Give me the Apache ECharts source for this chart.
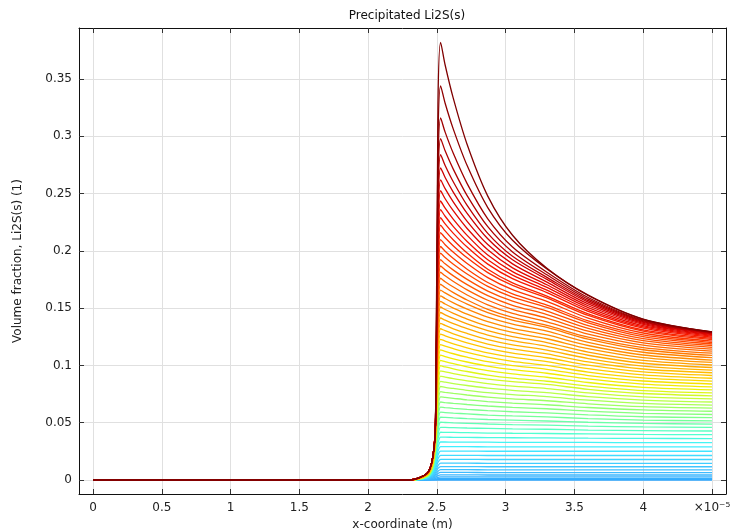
<!DOCTYPE html>
<html><head><meta charset="utf-8">
<script src="https://cdn.jsdelivr.net/npm/echarts@6/dist/echarts.min.js"></script>
<style>html,body{margin:0;padding:0;background:#fff}#c{width:731px;height:530px}</style>
</head><body><div id="c"></div><script>
// x positions (units of 1e-5 m) at which every curve was read
const xCoords = [0, 2.3, 2.43, 2.47, 2.49, 2.508, 2.527, 2.56, 2.62, 2.72, 2.87, 3.05, 3.3, 3.6, 4.0, 4.5];
// every curve reads 0 for x <= 2.3
const yBeforeRise = 0;
// values per x position, one entry per curve, from the top (latest) curve down to the first curve
const yAt2_43 = [.006,.006,.006,.006,.006,.006,.006,.006,.006,.006,.006,.006,.006,.006,.006,.006,.0059,.0058,.0057,.0056,.0055,.0055,.0054,.0053,.0052,.0051,.005,.005,.0049,.0048,.0047,.0046,.0045,.0044,.0043,.0042,.0041,.004,.0039,.0038,.0037,.0036,.0035,.0034,.0033,.0031,.003,.0029,.0027,.0026,.0024,.0023,.0021,.002,.0018,.0015,.0012,.0009,.0007,.0005,.0003,.0002,.0001,0];
const yAt2_47 = [.02,.02,.02,.02,.02,.02,.02,.02,.02,.02,.02,.02,.02,.02,.02,.02,.0196,.0193,.019,.0188,.0185,.0182,.0179,.0177,.0174,.0171,.0168,.0165,.0162,.016,.0157,.0154,.0151,.0148,.0144,.0141,.0138,.0135,.0131,.0128,.0124,.012,.0117,.0113,.0109,.0105,.01,.0096,.0091,.0086,.0081,.0076,.0071,.0065,.0054,.0044,.0035,.0027,.002,.0014,.0008,.0005,.0002,0];
const yAt2_49 = [.05,.05,.05,.05,.05,.05,.05,.05,.05,.05,.05,.05,.05,.05,.05,.05,.049,.0483,.0476,.0469,.0462,.0455,.0449,.0442,.0435,.0428,.0421,.0414,.0406,.0399,.0392,.0385,.0377,.0369,.0361,.0353,.0345,.0337,.0328,.032,.0311,.0301,.0292,.0282,.0272,.0262,.0251,.024,.0229,.0206,.0183,.016,.0139,.0118,.0099,.0081,.0064,.005,.0036,.0025,.0015,.0008,.0003,0];
const yAt2_508 = [.3285,.2958,.2718,.2563,.2442,.2344,.2253,.2172,.2094,.203,.1969,.1914,.1858,.1804,.1753,.1703,.1654,.1606,.156,.1514,.147,.1426,.1383,.1341,.1299,.1257,.1216,.1176,.1135,.1096,.1056,.1017,.0977,.0937,.0898,.0858,.0819,.0779,.074,.0702,.0663,.0624,.0586,.0547,.0509,.0471,.0433,.0396,.0359,.0322,.0286,.025,.0217,.0185,.0155,.0126,.0101,.0077,.0057,.0039,.0024,.0013,.0005,0];
const yPeak = [.382,.344,.316,.298,.284,.2725,.262,.2525,.2435,.236,.229,.2225,.216,.2098,.2038,.198,.1923,.1868,.1814,.1761,.1709,.1658,.1608,.1559,.151,.1462,.1414,.1367,.132,.1274,.1228,.1182,.1136,.109,.1044,.0998,.0952,.0906,.0861,.0816,.0771,.0726,.0681,.0636,.0592,.0548,.0504,.046,.0417,.0374,.0332,.0291,.0252,.0215,.018,.0147,.0117,.009,.0066,.0045,.0028,.0015,.0006,0];
const yAt2_56 = [.3622,.3288,.3036,.2873,.2745,.2640,.2543,.2455,.2372,.2302,.2236,.2174,.2114,.2054,.1997,.1942,.1887,.1834,.1782,.1731,.1680,.1633,.1584,.1536,.1488,.1442,.1395,.1349,.1303,.1258,.1213,.1168,.1123,.1078,.1033,.0987,.0943,.0898,.0854,.0809,.0765,.0721,.0676,.0632,.0589,.0546,.0502,.0459,.0416,.0374,.0332,.0291,.0252,.0215,.018,.0147,.0117,.009,.0066,.0045,.0028,.0015,.0006,0];
const yAt2_62 = [.3328,.3060,.2849,.2711,.2601,.2511,.2426,.2348,.2275,.2212,.2153,.2095,.2043,.1987,.1933,.1883,.1832,.1782,.1732,.1684,.1636,.1593,.1546,.1501,.1455,.1410,.1365,.1320,.1276,.1233,.1189,.1146,.1102,.1058,.1015,.0971,.0929,.0885,.0842,.0799,.0756,.0713,.0669,.0626,.0584,.0542,.0499,.0457,.0415,.0373,.0331,.0291,.0252,.0215,.018,.0147,.0117,.009,.0066,.0045,.0028,.0015,.0006,0];
const yAt2_72 = [.2928,.2744,.2587,.2482,.2397,.2327,.2258,.2195,.2135,.2082,.2033,.1981,.1939,.1889,.1840,.1798,.1751,.1705,.1660,.1615,.1571,.1535,.1491,.1448,.1405,.1363,.1321,.1279,.1237,.1196,.1154,.1113,.1072,.1030,.0988,.0947,.0908,.0866,.0825,.0783,.0742,.0700,.0659,.0617,.0577,.0536,.0495,.0454,.0413,.0372,.0331,.0291,.0252,.0215,.018,.0147,.0117,.009,.0066,.0045,.0028,.0015,.0006,0];
const yAt2_87 = [.2478,.2378,.2280,.2211,.2153,.2105,.2055,.2009,.1963,.1923,.1884,.1840,.1810,.1766,.1724,.1690,.1649,.1609,.1569,.1529,.1489,.1461,.1421,.1382,.1343,.1304,.1265,.1226,.1187,.1149,.1110,.1072,.1033,.0994,.0955,.0916,.0881,.0842,.0802,.0763,.0724,.0685,.0646,.0606,.0567,.0528,.0489,.0450,.0410,.0370,.0330,.029,.0251,.0214,.0179,.0146,.0116,.0089,.0065,.0044,.0027,.0014,.0005,0];
const yAt3_05 = [.2136,.2092,.2034,.1991,.1953,.1922,.1886,.1852,.1819,.1788,.1757,.1721,.1698,.1661,.1624,.1597,.1561,.1525,.1490,.1454,.1419,.1396,.1360,.1324,.1288,.1252,.1216,.1180,.1144,.1108,.1072,.1036,.0999,.0963,.0926,.0889,.0858,.0820,.0783,.0746,.0708,.0671,.0634,.0596,.0559,.0522,.0484,.0446,.0408,.0369,.0329,.029,.0251,.0214,.0179,.0146,.0116,.0089,.0065,.0044,.0027,.0014,.0005,0];
const yAt3_3 = [.1848,.1841,.1814,.1791,.1769,.1751,.1727,.1704,.1681,.1658,.1636,.1605,.1590,.1559,.1527,.1506,.1475,.1444,.1413,.1381,.1349,.1332,.1299,.1266,.1233,.1200,.1167,.1134,.1100,.1067,.1034,.1000,.0966,.0932,.0897,.0862,.0834,.0798,.0763,.0728,.0692,.0657,.0622,.0586,.0551,.0515,.0479,.0443,.0406,.0368,.0329,.029,.0251,.0214,.0179,.0146,.0116,.0089,.0065,.0044,.0027,.0014,.0005,0];
const yAt3_6 = [.1614,.1610,.1593,.1579,.1565,.1553,.1537,.1521,.1505,.1488,.1472,.1450,.1436,.1413,.1389,.1372,.1348,.1323,.1299,.1273,.1247,.1229,.1202,.1174,.1146,.1117,.1089,.1060,.1031,.1002,.0972,.0942,.0912,.0882,.0851,.0820,.0792,.0760,.0728,.0697,.0665,.0633,.0601,.0568,.0536,.0504,.0471,.0436,.0402,.0365,.0328,.0289,.0251,.0214,.0179,.0146,.0116,.0089,.0065,.0044,.0027,.0014,.0005,0];
const yAt4_0 = [.1405,.1403,.1395,.1390,.1383,.1376,.1367,.1358,.1347,.1336,.1325,.1310,.1299,.1283,.1266,.1251,.1234,.1216,.1197,.1177,.1156,.1137,.1115,.1091,.1068,.1044,.1019,.0994,.0969,.0943,.0917,.0891,.0864,.0837,.0809,.0781,.0755,.0726,.0698,.0669,.0640,.0612,.0582,.0552,.0523,.0494,.0463,.0431,.0398,.0363,.0326,.0289,.0251,.0214,.0179,.0146,.0116,.0089,.0065,.0044,.0027,.0014,.0005,0];
const yEnd = [.1293,.1292,.1290,.1288,.1285,.1281,.1276,.1270,.1263,.1255,.1246,.1236,.1225,.1213,.1200,.1187,.1173,.1158,.1142,.1125,.1107,.1088,.1068,.1047,.1026,.1004,.0982,.0959,.0936,.0912,.0888,.0863,.0838,.0813,.0787,.0761,.0735,.0708,.0681,.0654,.0627,.0600,.0572,.0544,.0516,.0488,.0459,.0428,.0396,.0362,.0326,.0289,.0251,.0214,.0179,.0146,.0116,.0089,.0065,.0044,.0027,.0014,.0005,0];

const xTickValues = [0, 0.5, 1, 1.5, 2, 2.5, 3, 3.5, 4, 4.5];
const yTickValues = [0, 0.05, 0.1, 0.15, 0.2, 0.25, 0.3, 0.35];
const titleText = 'Precipitated Li2S(s)';
const xName = 'x-coordinate (m)';
const yName = 'Volume fraction, Li2S(s) (1)';

const columns = [null, null, yAt2_43, yAt2_47, yAt2_49, yAt2_508, yPeak, yAt2_56, yAt2_62, yAt2_72, yAt2_87, yAt3_05, yAt3_3, yAt3_6, yAt4_0, yEnd];
const nCurves = yPeak.length;

// colour table (style only): 0 = first curve, 1 = last curve
const stops = [
  [0, [48,168,255]], [0.10, [64,192,255]], [0.151, [64,216,255]], [0.195, [64,240,255]],
  [0.238, [80,255,208]], [0.294, [112,255,160]], [0.349, [144,255,112]], [0.405, [192,255,64]],
  [0.468, [240,240,0]], [0.532, [255,200,0]], [0.603, [255,160,0]], [0.683, [255,112,0]],
  [0.778, [255,64,0]], [0.85, [245,20,0]], [0.92, [205,0,0]], [1, [128,0,0]]
];
function colorAt(t) {
  for (let k = 1; k < stops.length; k++) {
    if (t <= stops[k][0]) {
      const a = stops[k-1], b = stops[k];
      const f = (t - a[0]) / (b[0] - a[0]);
      const c = a[1].map((v, j) => Math.round(v + (b[1][j] - v) * f));
      return 'rgb(' + c.join(',') + ')';
    }
  }
  return 'rgb(128,0,0)';
}

const FONT = 'DejaVu Sans';
const series = [];
for (let i = nCurves - 1; i >= 0; i--) {
  const t = (nCurves - 1 - i) / (nCurves - 1);
  const data = xCoords.map((x, c) => [x, columns[c] ? columns[c][i] : yBeforeRise]);
  series.push({
    type: 'line', data: data, xAxisIndex: 0, yAxisIndex: 0,
    symbol: 'none', showSymbol: false, smooth: 0.3, silent: true,
    lineStyle: { width: 1.3, color: colorAt(t) },
    emphasis: { disabled: true }, animation: false
  });
}

const xMin = -0.102, xMax = 4.602, yMin = -0.0122, yMax = 0.3945;
const axisLineStyle = { show: true, onZero: false, lineStyle: { color: '#111', width: 1 } };
const tickStyle = { color: '#333', width: 1 };

const option = {
  backgroundColor: '#fff',
  animation: false,
  title: {
    text: titleText, left: 402, top: 5, textAlign: 'center',
    textStyle: { fontFamily: FONT, fontSize: 12, fontWeight: 'normal', color: '#111' }
  },
  grid: { left: 79, right: 5, top: 28, bottom: 36, containLabel: false, outerBoundsMode: 'none' },
  xAxis: [
    {
      type: 'value', position: 'bottom', min: xMin, max: xMax,
      axisLine: axisLineStyle,
      axisTick: { show: true, inside: true, length: 5, customValues: xTickValues, lineStyle: tickStyle },
      axisLabel: { customValues: xTickValues, formatter: v => (v === 4.5 ? '×10⁻⁵' : String(v)),
                   color: '#222', fontSize: 12, fontFamily: FONT, margin: 8 },
      splitLine: { show: true, lineStyle: { color: '#e0e0e0', width: 1 } },
      name: xName, nameLocation: 'middle', nameGap: 20,
      nameTextStyle: { fontFamily: FONT, fontSize: 12, color: '#222' }
    },
    {
      type: 'value', position: 'top', min: xMin, max: xMax,
      axisLine: axisLineStyle,
      axisTick: { show: true, inside: true, length: 5, customValues: xTickValues, lineStyle: tickStyle },
      axisLabel: { show: false }, splitLine: { show: false }
    }
  ],
  yAxis: [
    {
      type: 'value', position: 'left', min: yMin, max: yMax,
      axisLine: axisLineStyle,
      axisTick: { show: true, inside: true, length: 5, customValues: yTickValues, lineStyle: tickStyle },
      axisLabel: { customValues: yTickValues, formatter: v => String(v),
                   color: '#222', fontSize: 12, fontFamily: FONT, margin: 7 },
      splitLine: { show: true, lineStyle: { color: '#e0e0e0', width: 1 } },
      name: yName, nameLocation: 'middle', nameGap: 55, nameRotate: 90,
      nameTextStyle: { fontFamily: FONT, fontSize: 12, color: '#222' }
    },
    {
      type: 'value', position: 'right', min: yMin, max: yMax,
      axisLine: axisLineStyle,
      axisTick: { show: true, inside: true, length: 5, customValues: yTickValues, lineStyle: tickStyle },
      axisLabel: { show: false }, splitLine: { show: false }
    }
  ],
  series: series
};

const chart = echarts.init(document.getElementById('c'), null, { renderer: 'canvas' });
chart.setOption(option);
</script></body></html>
